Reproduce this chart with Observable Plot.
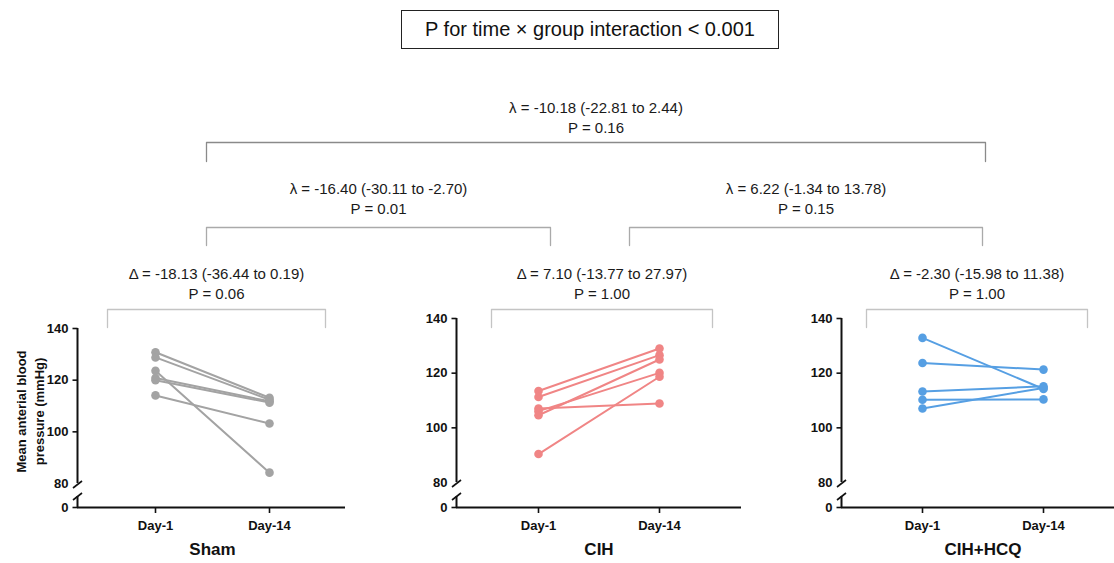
<!DOCTYPE html>
<html><head><meta charset="utf-8">
<script src="https://cdn.jsdelivr.net/npm/d3@7"></script>
<script src="https://cdn.jsdelivr.net/npm/@observablehq/plot@0.6"></script>
<style>
body{margin:0;background:#fff;font-family:"Liberation Sans",Arial,sans-serif;}
#root{position:relative;width:1114px;height:563px;overflow:hidden;background:#fff;}
#title{position:absolute;left:401px;top:10px;width:378px;height:39px;box-sizing:border-box;border:1.5px solid #222;font-size:20px;line-height:36px;text-align:center;color:#111;white-space:nowrap;}
#root svg{position:absolute;}
</style></head><body>
<div id="root"><div id="title">P for time × group interaction &lt; 0.001</div></div>
<script>
// ---- data ----
const groups = ["Sham", "CIH", "CIH+HCQ"];
const days = ["Day-1", "Day-14"];
const colors = ["#a3a3a3", "#f08585", "#569fe3"];
const shamDay1  = [130.8, 128.8, 123.6, 120.8, 120.0, 114.1];
const shamDay14 = [113.2, 112.4, 84.2, 111.8, 111.3, 103.2];
const cihDay1   = [113.5, 111.3, 107.1, 106.1, 104.6, 90.4];
const cihDay14  = [129.0, 126.6, 108.9, 120.1, 125.0, 118.7];
const hcqDay1   = [132.9, 123.7, 113.3, 110.3, 107.1];
const hcqDay14  = [114.2, 121.3, 115.2, 110.4, 114.6];
const yTicks = [0, 80, 100, 120, 140];
const compText = [
  "λ = -10.18 (-22.81 to 2.44)",
  "λ = -16.40 (-30.11 to -2.70)",
  "λ = 6.22 (-1.34 to 13.78)",
  "Δ = -18.13 (-36.44 to 0.19)",
  "Δ = 7.10 (-13.77 to 27.97)",
  "Δ = -2.30 (-15.98 to 11.38)"
];
const compP = ["P = 0.16", "P = 0.01", "P = 0.15", "P = 0.06", "P = 1.00", "P = 1.00"];
const yLabel = "Mean anterial blood\npressure (mmHg)";

// ---- layout ----
const FONT = '"Liberation Sans", Arial, sans-serif';
const root = document.getElementById("root");
const bracketLayout = [
  {x1: 206, x2: 985, y: 142, drop: 19, ty: 116, color: "#8a8a8a"},
  {x1: 206, x2: 550, y: 227, drop: 18, ty: 197, color: "#aaaaaa"},
  {x1: 629, x2: 982, y: 227, drop: 18, ty: 197, color: "#aaaaaa"},
  {x1: 107, x2: 325, y: 309, drop: 18, ty: 282, color: "#c4c4c4"},
  {x1: 491, x2: 712, y: 309, drop: 18, ty: 282, color: "#c4c4c4"},
  {x1: 866, x2: 1087, y: 309, drop: 18, ty: 282, color: "#c4c4c4"}
];
const bracketPts = [];
bracketLayout.forEach((b, i) => {
  bracketPts.push({k: i, px: b.x1, py: b.y + b.drop, c: b.color});
  bracketPts.push({k: i, px: b.x1, py: b.y, c: b.color});
  bracketPts.push({k: i, px: b.x2, py: b.y, c: b.color});
  bracketPts.push({k: i, px: b.x2, py: b.y + b.drop, c: b.color});
});
const comps = compText.map((t, i) => ({text: t + "\n" + compP[i], i}));

const annot = Plot.plot({
  width: 1114, height: 563, margin: 0,
  x: {type: "identity", axis: null}, y: {type: "identity", axis: null},
  style: {background: "none", fontFamily: FONT, overflow: "visible"},
  marks: [
    Plot.line(bracketPts, {x: "px", y: "py", z: "k", stroke: "c", strokeWidth: 1.3}),
    Plot.text(comps, {
      x: d => (bracketLayout[d.i].x1 + bracketLayout[d.i].x2) / 2,
      y: d => bracketLayout[d.i].ty,
      text: "text", fontSize: 15, lineHeight: 1.33, fill: "#1a1a1a", lineAnchor: "middle"
    }),
    Plot.text([yLabel], {x: () => 29, y: () => 411, rotate: -90, fontSize: 13, fontWeight: "bold",
      lineHeight: 1.38, fill: "#111", lineAnchor: "middle"})
  ]
});
annot.style.left = "0px"; annot.style.top = "0px";
root.appendChild(annot);

const slash = {draw(ctx) { ctx.moveTo(-4.5, 3.5); ctx.lineTo(4.5, -3.5); }};
const tickSym = {draw(ctx) { ctx.moveTo(-5, 0); ctx.lineTo(0, 0); }};
const panelLayout = [
  {left: 0,   axis: 77, d1: 78, d2: 192, end: 268, y80: 183, y140: 28},
  {left: 380, axis: 76, d1: 82, d2: 203, end: 285, y80: 182, y140: 18},
  {left: 765, axis: 76, d1: 81, d2: 202, end: 285, y80: 182, y140: 18}
];
const groupData = [[shamDay1, shamDay14], [cihDay1, cihDay14], [hcqDay1, hcqDay14]];

groups.forEach((g, gi) => {
  const p = panelLayout[gi];
  const [a, b] = groupData[gi];
  const rows = [];
  a.forEach((v, s) => { rows.push({subject: s, day: days[0], value: v}); rows.push({subject: s, day: days[1], value: b[s]}); });
  const W = p.axis + p.end + 4;
  const H = 263, base = 207;
  // axis break: values below 80 are compressed into a short gap above the baseline
  const pxu = (p.y80 - p.y140) / 60;
  const gapUnits = (base - p.y80) / pxu;
  const brk = v => v >= 80 ? v : 80 - (80 - v) / 80 * gapUnits;
  const y0 = brk(0);
  const upperSlash = 80 - 1 / pxu;
  const lowerSlash = y0 + 11 / pxu;
  const svg = Plot.plot({
    width: W, height: H,
    marginLeft: p.axis, marginRight: W - p.axis - p.end, marginTop: 0, marginBottom: H - base,
    style: {background: "none", fontFamily: FONT, overflow: "visible", color: "#111"},
    x: {type: "point", domain: days, range: [p.axis + p.d1, p.axis + p.d2], padding: 0, axis: null},
    y: {type: "linear", domain: [y0, 140], range: [base, p.y140], axis: null},
    marks: [
      Plot.ruleY([y0], {stroke: "#111", strokeWidth: 2}),
      Plot.ruleX([{lo: 80, hi: 140}, {lo: y0, hi: lowerSlash}], {x: () => days[0], dx: -p.d1, y1: "lo", y2: "hi", stroke: "#111", strokeWidth: 2}),
      Plot.dot([upperSlash, lowerSlash], {y: d => d, frameAnchor: "left", symbol: slash, r: 5, stroke: "#111", strokeWidth: 1.6, fill: "none"}),
      Plot.dot(yTicks.filter(t => t !== 80), {y: brk, frameAnchor: "left", symbol: tickSym, r: 5, stroke: "#111", strokeWidth: 1.6, fill: "none"}),
      Plot.text(yTicks, {y: brk, text: d => String(d), frameAnchor: "left", dx: -9, textAnchor: "end", fontSize: 13, fontWeight: "bold", fill: "#111"}),
      Plot.axisX(days, {tickSize: 6, tickPadding: 7, fontSize: 13, fontWeight: "bold", strokeWidth: 1.6, label: null}),
      Plot.text([g], {x: () => days[0], dx: (p.d2 - p.d1) / 2, frameAnchor: "bottom", dy: 47, fontSize: 17, fontWeight: "bold", fill: "#111"}),
      Plot.line(rows, {x: "day", y: d => brk(d.value), z: "subject", stroke: colors[gi], strokeWidth: 2}),
      Plot.dot(rows, {x: "day", y: d => brk(d.value), r: 4.3, fill: colors[gi], stroke: "none"})
    ]
  });
  svg.style.left = p.left + "px"; svg.style.top = "300px";
  root.appendChild(svg);
});
</script>
</body></html>
